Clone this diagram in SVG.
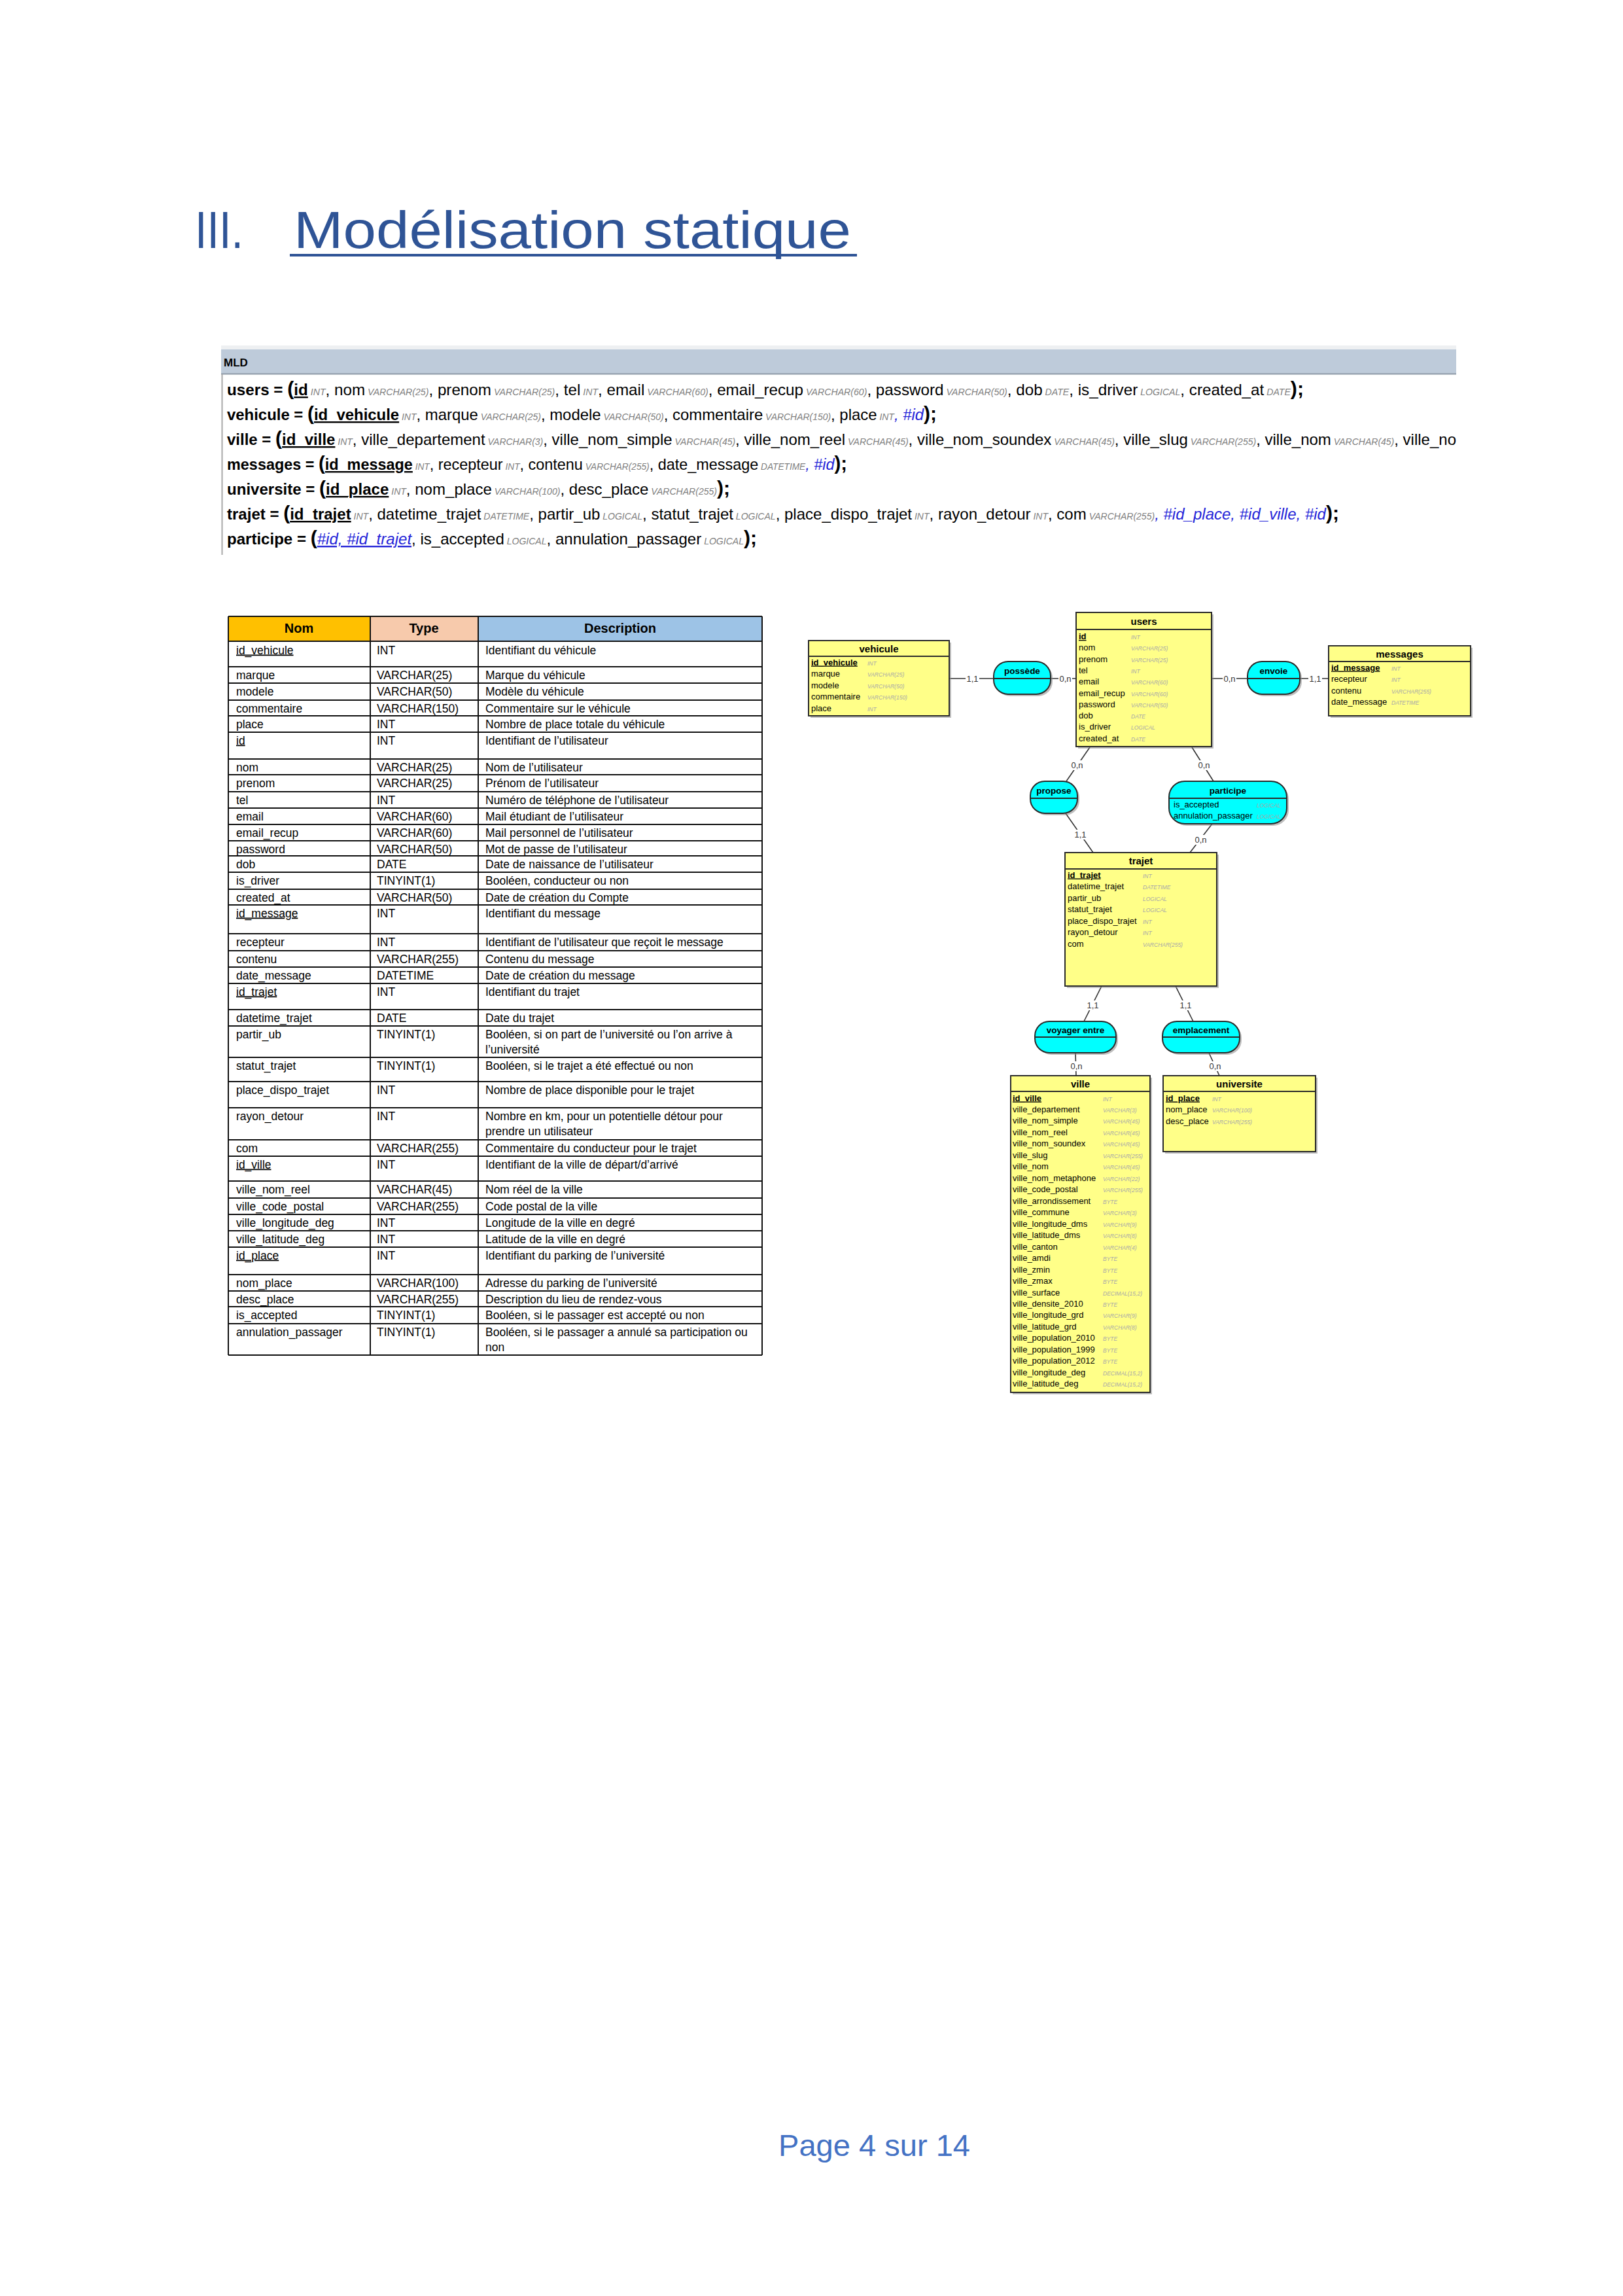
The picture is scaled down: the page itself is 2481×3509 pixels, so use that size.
<svg xmlns="http://www.w3.org/2000/svg" width="2481" height="3509" viewBox="0 0 2481 3509">
<style>
text{font-family:"Liberation Sans",Arial,sans-serif;fill:#000}
.title{font-size:80px;fill:#2F5496}
.foot{font-size:46px;fill:#4472C4}
.mld{font-size:24px}
.rel{font-weight:bold}
.par{font-weight:bold;font-size:30px}
.pk{text-decoration:underline;font-weight:bold}
.ty{font-style:italic;font-size:14px;fill:#808080}
.fk{font-style:italic;fill:#2424D8}
.tb{font-size:17.5px}
.th{font-size:20px;font-weight:bold;text-anchor:middle}
.ul{text-decoration:underline}
.ent{fill:#FFFF88;stroke:#2B2B2B;stroke-width:2}
.ass{fill:#00FFFF;stroke:#2B2B2B;stroke-width:2}
.sh{fill:#8A8A8A;opacity:.55}
.dv{stroke:#2B2B2B;stroke-width:2}
.et{font-size:15px;font-weight:bold;text-anchor:middle}
.at{font-size:15px;font-weight:bold;text-anchor:middle;font-size:13.5px}
.ea{font-size:13px}
.ek{font-size:13px;font-weight:bold;text-decoration:underline}
.es{font-size:8.5px;font-style:italic;fill:#A8A8A8}
.card{font-size:13px;fill:#333;text-anchor:middle}
.cn{stroke:#333;stroke-width:1.6;fill:none}
.lb{fill:#fff}
.grid{stroke:#111;stroke-width:2;fill:none}
</style>

<g id="title">
<text class="title" x="298" y="379" textLength="74" lengthAdjust="spacingAndGlyphs">III.</text>
<text class="title" x="449" y="379" textLength="852" lengthAdjust="spacingAndGlyphs">Modélisation statique</text>
<line x1="443" y1="390" x2="1310" y2="390" stroke="#2F5496" stroke-width="4"/>
</g>

<g id="mld">
<rect x="338" y="528" width="1888" height="6" fill="#EEF0F2"/>
<rect x="338" y="534" width="1888" height="37" fill="#BECBDA"/>
<line x1="338" y1="571.5" x2="2226" y2="571.5" stroke="#8E9AA6" stroke-width="2"/>
<line x1="339.5" y1="572" x2="339.5" y2="848" stroke="#A8A8A8" stroke-width="2"/>
<text x="342" y="560" font-size="17" font-weight="bold">MLD</text>
<text class="mld" x="347" y="604" textLength="1646" lengthAdjust="spacingAndGlyphs"><tspan class="rel">users = </tspan><tspan class="par">(</tspan><tspan class="pk">id</tspan><tspan class="ty"> INT</tspan>, nom<tspan class="ty"> VARCHAR(25)</tspan>, prenom<tspan class="ty"> VARCHAR(25)</tspan>, tel<tspan class="ty"> INT</tspan>, email<tspan class="ty"> VARCHAR(60)</tspan>, email_recup<tspan class="ty"> VARCHAR(60)</tspan>, password<tspan class="ty"> VARCHAR(50)</tspan>, dob<tspan class="ty"> DATE</tspan>, is_driver<tspan class="ty"> LOGICAL</tspan>, created_at<tspan class="ty"> DATE</tspan><tspan class="par">);</tspan></text>
<text class="mld" x="347" y="642" textLength="1085" lengthAdjust="spacingAndGlyphs"><tspan class="rel">vehicule = </tspan><tspan class="par">(</tspan><tspan class="pk">id_vehicule</tspan><tspan class="ty"> INT</tspan>, marque<tspan class="ty"> VARCHAR(25)</tspan>, modele<tspan class="ty"> VARCHAR(50)</tspan>, commentaire<tspan class="ty"> VARCHAR(150)</tspan>, place<tspan class="ty"> INT</tspan><tspan class="fk">, #id</tspan><tspan class="par">);</tspan></text>
<text class="mld" x="347" y="680" textLength="1879" lengthAdjust="spacingAndGlyphs"><tspan class="rel">ville = </tspan><tspan class="par">(</tspan><tspan class="pk">id_ville</tspan><tspan class="ty"> INT</tspan>, ville_departement<tspan class="ty"> VARCHAR(3)</tspan>, ville_nom_simple<tspan class="ty"> VARCHAR(45)</tspan>, ville_nom_reel<tspan class="ty"> VARCHAR(45)</tspan>, ville_nom_soundex<tspan class="ty"> VARCHAR(45)</tspan>, ville_slug<tspan class="ty"> VARCHAR(255)</tspan>, ville_nom<tspan class="ty"> VARCHAR(45)</tspan>, ville_no</text>
<text class="mld" x="347" y="718" textLength="948" lengthAdjust="spacingAndGlyphs"><tspan class="rel">messages = </tspan><tspan class="par">(</tspan><tspan class="pk">id_message</tspan><tspan class="ty"> INT</tspan>, recepteur<tspan class="ty"> INT</tspan>, contenu<tspan class="ty"> VARCHAR(255)</tspan>, date_message<tspan class="ty"> DATETIME</tspan><tspan class="fk">, #id</tspan><tspan class="par">);</tspan></text>
<text class="mld" x="347" y="756" textLength="769" lengthAdjust="spacingAndGlyphs"><tspan class="rel">universite = </tspan><tspan class="par">(</tspan><tspan class="pk">id_place</tspan><tspan class="ty"> INT</tspan>, nom_place<tspan class="ty"> VARCHAR(100)</tspan>, desc_place<tspan class="ty"> VARCHAR(255)</tspan><tspan class="par">);</tspan></text>
<text class="mld" x="347" y="794" textLength="1700" lengthAdjust="spacingAndGlyphs"><tspan class="rel">trajet = </tspan><tspan class="par">(</tspan><tspan class="pk">id_trajet</tspan><tspan class="ty"> INT</tspan>, datetime_trajet<tspan class="ty"> DATETIME</tspan>, partir_ub<tspan class="ty"> LOGICAL</tspan>, statut_trajet<tspan class="ty"> LOGICAL</tspan>, place_dispo_trajet<tspan class="ty"> INT</tspan>, rayon_detour<tspan class="ty"> INT</tspan>, com<tspan class="ty"> VARCHAR(255)</tspan><tspan class="fk">, #id_place, #id_ville, #id</tspan><tspan class="par">);</tspan></text>
<text class="mld" x="347" y="832" textLength="810" lengthAdjust="spacingAndGlyphs"><tspan class="rel">participe = </tspan><tspan class="par">(</tspan><tspan class="fk ul">#id, #id_trajet</tspan>, is_accepted<tspan class="ty"> LOGICAL</tspan>, annulation_passager<tspan class="ty"> LOGICAL</tspan><tspan class="par">);</tspan></text>
</g>

<g id="dictionary">
<rect x="349" y="942" width="217" height="38" fill="#FFC000"/>
<rect x="566" y="942" width="165" height="38" fill="#F7CAAC"/>
<rect x="731" y="942" width="434" height="38" fill="#9DC3E6"/>
<path class="grid" d="M349 942H1165M349 980H1165M349 1019H1165M349 1044H1165M349 1070H1165M349 1094H1165M349 1119H1165M349 1160H1165M349 1184H1165M349 1210H1165M349 1235H1165M349 1260H1165M349 1285H1165M349 1308H1165M349 1333H1165M349 1359H1165M349 1383H1165M349 1427H1165M349 1453H1165M349 1478H1165M349 1503H1165M349 1543H1165M349 1568H1165M349 1616H1165M349 1653H1165M349 1693H1165M349 1742H1165M349 1767H1165M349 1805H1165M349 1831H1165M349 1856H1165M349 1881H1165M349 1906H1165M349 1948H1165M349 1973H1165M349 1997H1165M349 2023H1165M349 2071H1165M349 942V2071M566 942V2071M731 942V2071M1165 942V2071"/>
<text class="th" x="457" y="967">Nom</text>
<text class="th" x="648" y="967">Type</text>
<text class="th" x="948" y="967">Description</text>
<g class="tb">
<text class="tb ul" x="361" y="999.5">id_vehicule</text><text class="tb" x="576" y="999.5">INT</text><text class="tb" x="742" y="999.5">Identifiant du véhicule</text>
<text class="tb" x="361" y="1037.5">marque</text><text class="tb" x="576" y="1037.5">VARCHAR(25)</text><text class="tb" x="742" y="1037.5">Marque du véhicule</text>
<text class="tb" x="361" y="1062.5">modele</text><text class="tb" x="576" y="1062.5">VARCHAR(50)</text><text class="tb" x="742" y="1062.5">Modèle du véhicule</text>
<text class="tb" x="361" y="1088.5">commentaire</text><text class="tb" x="576" y="1088.5">VARCHAR(150)</text><text class="tb" x="742" y="1088.5">Commentaire sur le véhicule</text>
<text class="tb" x="361" y="1112.5">place</text><text class="tb" x="576" y="1112.5">INT</text><text class="tb" x="742" y="1112.5">Nombre de place totale du véhicule</text>
<text class="tb ul" x="361" y="1137.5">id</text><text class="tb" x="576" y="1137.5">INT</text><text class="tb" x="742" y="1137.5">Identifiant de l’utilisateur</text>
<text class="tb" x="361" y="1178.5">nom</text><text class="tb" x="576" y="1178.5">VARCHAR(25)</text><text class="tb" x="742" y="1178.5">Nom de l’utilisateur</text>
<text class="tb" x="361" y="1202.5">prenom</text><text class="tb" x="576" y="1202.5">VARCHAR(25)</text><text class="tb" x="742" y="1202.5">Prénom de l’utilisateur</text>
<text class="tb" x="361" y="1228.5">tel</text><text class="tb" x="576" y="1228.5">INT</text><text class="tb" x="742" y="1228.5">Numéro de téléphone de l’utilisateur</text>
<text class="tb" x="361" y="1253.5">email</text><text class="tb" x="576" y="1253.5">VARCHAR(60)</text><text class="tb" x="742" y="1253.5">Mail étudiant de l’utilisateur</text>
<text class="tb" x="361" y="1278.5">email_recup</text><text class="tb" x="576" y="1278.5">VARCHAR(60)</text><text class="tb" x="742" y="1278.5">Mail personnel de l’utilisateur</text>
<text class="tb" x="361" y="1303.5">password</text><text class="tb" x="576" y="1303.5">VARCHAR(50)</text><text class="tb" x="742" y="1303.5">Mot de passe de l’utilisateur</text>
<text class="tb" x="361" y="1326.5">dob</text><text class="tb" x="576" y="1326.5">DATE</text><text class="tb" x="742" y="1326.5">Date de naissance de l’utilisateur</text>
<text class="tb" x="361" y="1351.5">is_driver</text><text class="tb" x="576" y="1351.5">TINYINT(1)</text><text class="tb" x="742" y="1351.5">Booléen, conducteur ou non</text>
<text class="tb" x="361" y="1377.5">created_at</text><text class="tb" x="576" y="1377.5">VARCHAR(50)</text><text class="tb" x="742" y="1377.5">Date de création du Compte</text>
<text class="tb ul" x="361" y="1401.5">id_message</text><text class="tb" x="576" y="1401.5">INT</text><text class="tb" x="742" y="1401.5">Identifiant du message</text>
<text class="tb" x="361" y="1445.5">recepteur</text><text class="tb" x="576" y="1445.5">INT</text><text class="tb" x="742" y="1445.5">Identifiant de l’utilisateur que reçoit le message</text>
<text class="tb" x="361" y="1471.5">contenu</text><text class="tb" x="576" y="1471.5">VARCHAR(255)</text><text class="tb" x="742" y="1471.5">Contenu du message</text>
<text class="tb" x="361" y="1496.5">date_message</text><text class="tb" x="576" y="1496.5">DATETIME</text><text class="tb" x="742" y="1496.5">Date de création du message</text>
<text class="tb ul" x="361" y="1521.5">id_trajet</text><text class="tb" x="576" y="1521.5">INT</text><text class="tb" x="742" y="1521.5">Identifiant du trajet</text>
<text class="tb" x="361" y="1561.5">datetime_trajet</text><text class="tb" x="576" y="1561.5">DATE</text><text class="tb" x="742" y="1561.5">Date du trajet</text>
<text class="tb" x="361" y="1586.5">partir_ub</text><text class="tb" x="576" y="1586.5">TINYINT(1)</text><text class="tb" x="742" y="1586.5">Booléen, si on part de l’université ou l’on arrive à</text><text class="tb" x="742" y="1609.5">l’université</text>
<text class="tb" x="361" y="1634.5">statut_trajet</text><text class="tb" x="576" y="1634.5">TINYINT(1)</text><text class="tb" x="742" y="1634.5">Booléen, si le trajet a été effectué ou non</text>
<text class="tb" x="361" y="1671.5">place_dispo_trajet</text><text class="tb" x="576" y="1671.5">INT</text><text class="tb" x="742" y="1671.5">Nombre de place disponible pour le trajet</text>
<text class="tb" x="361" y="1711.5">rayon_detour</text><text class="tb" x="576" y="1711.5">INT</text><text class="tb" x="742" y="1711.5">Nombre en km, pour un potentielle détour pour</text><text class="tb" x="742" y="1734.5">prendre un utilisateur</text>
<text class="tb" x="361" y="1760.5">com</text><text class="tb" x="576" y="1760.5">VARCHAR(255)</text><text class="tb" x="742" y="1760.5">Commentaire du conducteur pour le trajet</text>
<text class="tb ul" x="361" y="1785.5">id_ville</text><text class="tb" x="576" y="1785.5">INT</text><text class="tb" x="742" y="1785.5">Identifiant de la ville de départ/d’arrivé</text>
<text class="tb" x="361" y="1823.5">ville_nom_reel</text><text class="tb" x="576" y="1823.5">VARCHAR(45)</text><text class="tb" x="742" y="1823.5">Nom réel de la ville</text>
<text class="tb" x="361" y="1849.5">ville_code_postal</text><text class="tb" x="576" y="1849.5">VARCHAR(255)</text><text class="tb" x="742" y="1849.5">Code postal de la ville</text>
<text class="tb" x="361" y="1874.5">ville_longitude_deg</text><text class="tb" x="576" y="1874.5">INT</text><text class="tb" x="742" y="1874.5">Longitude de la ville en degré</text>
<text class="tb" x="361" y="1899.5">ville_latitude_deg</text><text class="tb" x="576" y="1899.5">INT</text><text class="tb" x="742" y="1899.5">Latitude de la ville en degré</text>
<text class="tb ul" x="361" y="1924.5">id_place</text><text class="tb" x="576" y="1924.5">INT</text><text class="tb" x="742" y="1924.5">Identifiant du parking de l’université</text>
<text class="tb" x="361" y="1966.5">nom_place</text><text class="tb" x="576" y="1966.5">VARCHAR(100)</text><text class="tb" x="742" y="1966.5">Adresse du parking de l’université</text>
<text class="tb" x="361" y="1991.5">desc_place</text><text class="tb" x="576" y="1991.5">VARCHAR(255)</text><text class="tb" x="742" y="1991.5">Description du lieu de rendez-vous</text>
<text class="tb" x="361" y="2015.5">is_accepted</text><text class="tb" x="576" y="2015.5">TINYINT(1)</text><text class="tb" x="742" y="2015.5">Booléen, si le passager est accepté ou non</text>
<text class="tb" x="361" y="2041.5">annulation_passager</text><text class="tb" x="576" y="2041.5">TINYINT(1)</text><text class="tb" x="742" y="2041.5">Booléen, si le passager a annulé sa participation ou</text><text class="tb" x="742" y="2064.5">non</text>
</g>
</g>

<g id="connectors">
<line class="cn" x1="1451" y1="1037" x2="1519" y2="1037"/>
<line class="cn" x1="1606" y1="1037" x2="1645" y2="1037"/>
<line class="cn" x1="1852" y1="1037" x2="1907" y2="1037"/>
<line class="cn" x1="1987" y1="1037" x2="2031" y2="1037"/>
<line class="cn" x1="1666" y1="1142" x2="1630" y2="1194"/>
<line class="cn" x1="1822" y1="1142" x2="1855" y2="1194"/>
<line class="cn" x1="1629" y1="1243" x2="1671" y2="1303"/>
<line class="cn" x1="1853" y1="1259" x2="1819" y2="1303"/>
<line class="cn" x1="1684" y1="1507" x2="1657" y2="1561"/>
<line class="cn" x1="1797" y1="1507" x2="1824" y2="1561"/>
<line class="cn" x1="1644" y1="1609" x2="1645" y2="1644"/>
<line class="cn" x1="1848" y1="1609" x2="1864" y2="1644"/>
<rect class="lb" x="1476" y="1030" width="21" height="14"/>
<rect class="lb" x="1618" y="1030" width="21" height="14"/>
<rect class="lb" x="1869" y="1030" width="21" height="14"/>
<rect class="lb" x="2000" y="1030" width="21" height="14"/>
<rect class="lb" x="1636" y="1162" width="21" height="15"/>
<rect class="lb" x="1830" y="1162" width="21" height="15"/>
<rect class="lb" x="1641" y="1268" width="21" height="15"/>
<rect class="lb" x="1825" y="1276" width="21" height="15"/>
<rect class="lb" x="1660" y="1529" width="21" height="15"/>
<rect class="lb" x="1802" y="1529" width="21" height="15"/>
<rect class="lb" x="1635" y="1622" width="21" height="15"/>
<rect class="lb" x="1847" y="1622" width="21" height="15"/>
<text class="card" x="1486.5" y="1041.5">1,1</text>
<text class="card" x="1628.5" y="1041.5">0,n</text>
<text class="card" x="1879.5" y="1041.5">0,n</text>
<text class="card" x="2010.5" y="1041.5">1,1</text>
<text class="card" x="1646.5" y="1174">0,n</text>
<text class="card" x="1840.5" y="1174">0,n</text>
<text class="card" x="1651.5" y="1280">1,1</text>
<text class="card" x="1835.5" y="1288">0,n</text>
<text class="card" x="1670.5" y="1541">1,1</text>
<text class="card" x="1812.5" y="1541">1,1</text>
<text class="card" x="1645.5" y="1634">0,n</text>
<text class="card" x="1857.5" y="1634">0,n</text>
</g>

<g id="vehicule">
<rect class="sh" x="1239" y="982" width="215" height="115"/>
<rect class="ent" x="1236" y="979" width="215" height="115"/>
<line class="dv" x1="1236" y1="1003" x2="1451" y2="1003"/>
<text class="et" x="1343.5" y="997">vehicule</text>
<text class="ek" x="1240" y="1016.5">id_vehicule</text><text class="es" x="1326" y="1016.5">INT</text>
<text class="ea" x="1240" y="1034">marque</text><text class="es" x="1326" y="1034">VARCHAR(25)</text>
<text class="ea" x="1240" y="1051.5">modele</text><text class="es" x="1326" y="1051.5">VARCHAR(50)</text>
<text class="ea" x="1240" y="1069">commentaire</text><text class="es" x="1326" y="1069">VARCHAR(150)</text>
<text class="ea" x="1240" y="1086.5">place</text><text class="es" x="1326" y="1086.5">INT</text>
</g>

<g id="possede">
<rect class="sh" x="1522" y="1014" width="87" height="50" rx="22"/>
<rect class="ass" x="1519" y="1011" width="87" height="50" rx="22"/>
<line class="dv" x1="1519" y1="1037" x2="1606" y2="1037"/>
<text class="at" x="1562.5" y="1030">possède</text>
</g>

<g id="users">
<rect class="sh" x="1648" y="939" width="207" height="205"/>
<rect class="ent" x="1645" y="936" width="207" height="205"/>
<line class="dv" x1="1645" y1="962" x2="1852" y2="962"/>
<text class="et" x="1748.5" y="955">users</text>
<text class="ek" x="1649" y="977">id</text><text class="es" x="1729" y="977">INT</text>
<text class="ea" x="1649" y="994.3">nom</text><text class="es" x="1729" y="994.3">VARCHAR(25)</text>
<text class="ea" x="1649" y="1011.6">prenom</text><text class="es" x="1729" y="1011.6">VARCHAR(25)</text>
<text class="ea" x="1649" y="1028.9">tel</text><text class="es" x="1729" y="1028.9">INT</text>
<text class="ea" x="1649" y="1046.2">email</text><text class="es" x="1729" y="1046.2">VARCHAR(60)</text>
<text class="ea" x="1649" y="1063.5">email_recup</text><text class="es" x="1729" y="1063.5">VARCHAR(60)</text>
<text class="ea" x="1649" y="1080.8">password</text><text class="es" x="1729" y="1080.8">VARCHAR(50)</text>
<text class="ea" x="1649" y="1098.1">dob</text><text class="es" x="1729" y="1098.1">DATE</text>
<text class="ea" x="1649" y="1115.4">is_driver</text><text class="es" x="1729" y="1115.4">LOGICAL</text>
<text class="ea" x="1649" y="1132.7">created_at</text><text class="es" x="1729" y="1132.7">DATE</text>
</g>

<g id="envoie">
<rect class="sh" x="1910" y="1014" width="80" height="50" rx="22"/>
<rect class="ass" x="1907" y="1011" width="80" height="50" rx="22"/>
<line class="dv" x1="1907" y1="1037" x2="1987" y2="1037"/>
<text class="at" x="1947" y="1030">envoie</text>
</g>

<g id="messages">
<rect class="sh" x="2034" y="990" width="217" height="107"/>
<rect class="ent" x="2031" y="987" width="217" height="107"/>
<line class="dv" x1="2031" y1="1011" x2="2248" y2="1011"/>
<text class="et" x="2139.5" y="1005">messages</text>
<text class="ek" x="2035" y="1024.5">id_message</text><text class="es" x="2127" y="1024.5">INT</text>
<text class="ea" x="2035" y="1042">recepteur</text><text class="es" x="2127" y="1042">INT</text>
<text class="ea" x="2035" y="1059.5">contenu</text><text class="es" x="2127" y="1059.5">VARCHAR(255)</text>
<text class="ea" x="2035" y="1077">date_message</text><text class="es" x="2127" y="1077">DATETIME</text>
</g>

<g id="propose">
<rect class="sh" x="1578" y="1197" width="72" height="49" rx="22"/>
<rect class="ass" x="1575" y="1194" width="72" height="49" rx="22"/>
<line class="dv" x1="1575" y1="1220" x2="1647" y2="1220"/>
<text class="at" x="1611" y="1213">propose</text>
</g>

<g id="participe">
<rect class="sh" x="1790" y="1197" width="180" height="65" rx="24"/>
<rect class="ass" x="1787" y="1194" width="180" height="65" rx="24"/>
<line class="dv" x1="1787" y1="1220" x2="1967" y2="1220"/>
<text class="at" x="1877" y="1213">participe</text>
<text class="ea" x="1794" y="1233.5">is_accepted</text><text class="es" x="1921" y="1233.5">LOGICAL</text>
<text class="ea" x="1794" y="1250.5">annulation_passager</text><text class="es" x="1921" y="1250.5">LOGICAL</text>
</g>

<g id="trajet">
<rect class="sh" x="1631" y="1306" width="232" height="204"/>
<rect class="ent" x="1628" y="1303" width="232" height="204"/>
<line class="dv" x1="1628" y1="1328" x2="1860" y2="1328"/>
<text class="et" x="1744" y="1321">trajet</text>
<text class="ek" x="1632" y="1341.5">id_trajet</text><text class="es" x="1747" y="1341.5">INT</text>
<text class="ea" x="1632" y="1359">datetime_trajet</text><text class="es" x="1747" y="1359">DATETIME</text>
<text class="ea" x="1632" y="1376.5">partir_ub</text><text class="es" x="1747" y="1376.5">LOGICAL</text>
<text class="ea" x="1632" y="1394">statut_trajet</text><text class="es" x="1747" y="1394">LOGICAL</text>
<text class="ea" x="1632" y="1411.5">place_dispo_trajet</text><text class="es" x="1747" y="1411.5">INT</text>
<text class="ea" x="1632" y="1429">rayon_detour</text><text class="es" x="1747" y="1429">INT</text>
<text class="ea" x="1632" y="1446.5">com</text><text class="es" x="1747" y="1446.5">VARCHAR(255)</text>
</g>

<g id="voyager_entre">
<rect class="sh" x="1585" y="1564" width="124" height="48" rx="22"/>
<rect class="ass" x="1582" y="1561" width="124" height="48" rx="22"/>
<line class="dv" x1="1582" y1="1585" x2="1706" y2="1585"/>
<text class="at" x="1644" y="1579">voyager entre</text>
</g>

<g id="emplacement">
<rect class="sh" x="1780" y="1564" width="118" height="48" rx="22"/>
<rect class="ass" x="1777" y="1561" width="118" height="48" rx="22"/>
<line class="dv" x1="1777" y1="1585" x2="1895" y2="1585"/>
<text class="at" x="1836" y="1579">emplacement</text>
</g>

<g id="ville">
<rect class="sh" x="1548" y="1647" width="213" height="484"/>
<rect class="ent" x="1545" y="1644" width="213" height="484"/>
<line class="dv" x1="1545" y1="1668" x2="1758" y2="1668"/>
<text class="et" x="1651.5" y="1662">ville</text>
<text class="ek" x="1548" y="1682.5">id_ville</text><text class="es" x="1686" y="1682.5">INT</text>
<text class="ea" x="1548" y="1700">ville_departement</text><text class="es" x="1686" y="1700">VARCHAR(3)</text>
<text class="ea" x="1548" y="1717.4">ville_nom_simple</text><text class="es" x="1686" y="1717.4">VARCHAR(45)</text>
<text class="ea" x="1548" y="1734.9">ville_nom_reel</text><text class="es" x="1686" y="1734.9">VARCHAR(45)</text>
<text class="ea" x="1548" y="1752.4">ville_nom_soundex</text><text class="es" x="1686" y="1752.4">VARCHAR(45)</text>
<text class="ea" x="1548" y="1769.9">ville_slug</text><text class="es" x="1686" y="1769.9">VARCHAR(255)</text>
<text class="ea" x="1548" y="1787.3">ville_nom</text><text class="es" x="1686" y="1787.3">VARCHAR(45)</text>
<text class="ea" x="1548" y="1804.8">ville_nom_metaphone</text><text class="es" x="1686" y="1804.8">VARCHAR(22)</text>
<text class="ea" x="1548" y="1822.3">ville_code_postal</text><text class="es" x="1686" y="1822.3">VARCHAR(255)</text>
<text class="ea" x="1548" y="1839.7">ville_arrondissement</text><text class="es" x="1686" y="1839.7">BYTE</text>
<text class="ea" x="1548" y="1857.2">ville_commune</text><text class="es" x="1686" y="1857.2">VARCHAR(3)</text>
<text class="ea" x="1548" y="1874.7">ville_longitude_dms</text><text class="es" x="1686" y="1874.7">VARCHAR(9)</text>
<text class="ea" x="1548" y="1892.1">ville_latitude_dms</text><text class="es" x="1686" y="1892.1">VARCHAR(8)</text>
<text class="ea" x="1548" y="1909.6">ville_canton</text><text class="es" x="1686" y="1909.6">VARCHAR(4)</text>
<text class="ea" x="1548" y="1927.1">ville_amdi</text><text class="es" x="1686" y="1927.1">BYTE</text>
<text class="ea" x="1548" y="1944.6">ville_zmin</text><text class="es" x="1686" y="1944.6">BYTE</text>
<text class="ea" x="1548" y="1962">ville_zmax</text><text class="es" x="1686" y="1962">BYTE</text>
<text class="ea" x="1548" y="1979.5">ville_surface</text><text class="es" x="1686" y="1979.5">DECIMAL(15,2)</text>
<text class="ea" x="1548" y="1997">ville_densite_2010</text><text class="es" x="1686" y="1997">BYTE</text>
<text class="ea" x="1548" y="2014.4">ville_longitude_grd</text><text class="es" x="1686" y="2014.4">VARCHAR(9)</text>
<text class="ea" x="1548" y="2031.9">ville_latitude_grd</text><text class="es" x="1686" y="2031.9">VARCHAR(8)</text>
<text class="ea" x="1548" y="2049.4">ville_population_2010</text><text class="es" x="1686" y="2049.4">BYTE</text>
<text class="ea" x="1548" y="2066.8">ville_population_1999</text><text class="es" x="1686" y="2066.8">BYTE</text>
<text class="ea" x="1548" y="2084.3">ville_population_2012</text><text class="es" x="1686" y="2084.3">BYTE</text>
<text class="ea" x="1548" y="2101.8">ville_longitude_deg</text><text class="es" x="1686" y="2101.8">DECIMAL(15,2)</text>
<text class="ea" x="1548" y="2119.3">ville_latitude_deg</text><text class="es" x="1686" y="2119.3">DECIMAL(15,2)</text>
</g>

<g id="universite">
<rect class="sh" x="1781" y="1647" width="233" height="116"/>
<rect class="ent" x="1778" y="1644" width="233" height="116"/>
<line class="dv" x1="1778" y1="1668" x2="2011" y2="1668"/>
<text class="et" x="1894.5" y="1662">universite</text>
<text class="ek" x="1782" y="1682.5">id_place</text><text class="es" x="1853" y="1682.5">INT</text>
<text class="ea" x="1782" y="1700">nom_place</text><text class="es" x="1853" y="1700">VARCHAR(100)</text>
<text class="ea" x="1782" y="1717.5">desc_place</text><text class="es" x="1853" y="1717.5">VARCHAR(255)</text>
</g>

<g id="footer">
<text class="foot" x="1190" y="3295" textLength="293" lengthAdjust="spacingAndGlyphs">Page 4 sur 14</text>
</g>
</svg>
